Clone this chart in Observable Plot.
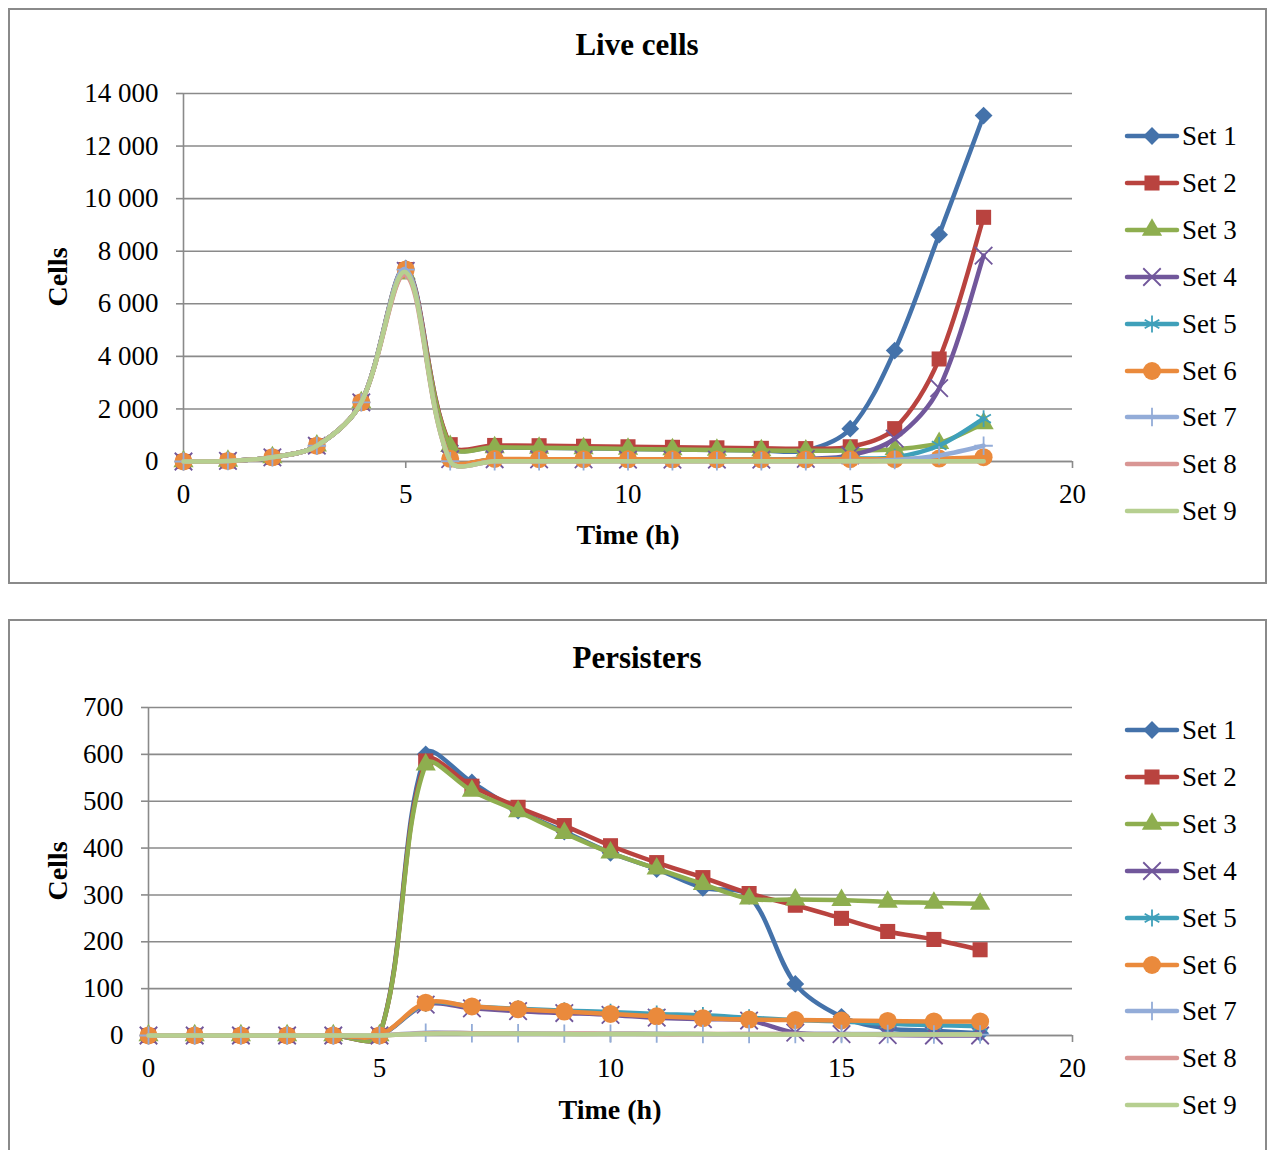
<!DOCTYPE html>
<html>
<head>
<meta charset="utf-8">
<script src="https://cdn.jsdelivr.net/npm/d3@7"></script>
<script src="https://cdn.jsdelivr.net/npm/@observablehq/plot@0.6"></script>
<style>
html, body { margin: 0; padding: 0; background: #fff; overflow: hidden; width: 1269px; height: 1150px; }
body { position: relative; font-family: "Liberation Serif", "Times New Roman", serif; color: #000; }
.panel { position: absolute; border: 2px solid #8a8a8a; box-sizing: border-box; }
.abs { position: absolute; white-space: nowrap; line-height: 1; }
.title { font-weight: bold; font-size: 31px; transform: translate(-50%, -50%); }
.axlabel { font-weight: bold; font-size: 28px; transform: translate(-50%, -50%); }
.ylabel { font-weight: bold; font-size: 28px; transform: translate(-50%, -50%) rotate(-90deg); }
.legtext { font-size: 27px; transform: translateY(-50%); }
.plotwrap { position: absolute; left: 0; }
</style>
</head>
<body>
<div class="panel" style="left:8px; top:8px; width:1259px; height:576px;"></div>
<div class="panel" style="left:8px; top:619px; width:1259px; height:560px;"></div>
<div id="root"></div>
<script>
// ---- Data ----
const hours = [0, 1, 2, 3, 4, 5, 6, 7, 8, 9, 10, 11, 12, 13, 14, 15, 16, 17, 18];
const setNames = ["Set 1", "Set 2", "Set 3", "Set 4", "Set 5", "Set 6", "Set 7", "Set 8", "Set 9"];
const xTicks = [0, 5, 10, 15, 20];
const liveYTicks = [0, 2000, 4000, 6000, 8000, 10000, 12000, 14000];
const persYTicks = [0, 100, 200, 300, 400, 500, 600, 700];

// Live cells
const liveSet1 = [0, 20, 160, 600, 2250, 7350, 600, 540, 520, 500, 480, 460, 440, 420, 420, 1250, 4220, 8630, 13160];
const liveSet2 = [0, 20, 160, 600, 2250, 7300, 640, 610, 600, 580, 560, 540, 520, 500, 490, 560, 1250, 3900, 9290];
const liveSet3 = [0, 20, 160, 600, 2250, 7150, 580, 540, 520, 500, 480, 460, 440, 420, 410, 420, 470, 700, 1450];
const liveSet4 = [0, 20, 160, 600, 2250, 7250, 90, 85, 80, 80, 75, 75, 70, 70, 100, 230, 870, 2790, 7830];
const liveSet5 = [0, 20, 160, 600, 2250, 7300, 95, 90, 85, 85, 80, 80, 75, 75, 80, 110, 160, 610, 1630];
const liveSet6 = [0, 20, 160, 600, 2250, 7300, 100, 95, 90, 90, 85, 85, 80, 80, 80, 90, 90, 110, 165];
const liveSet7 = [0, 20, 160, 600, 2250, 7300, 10, 10, 10, 10, 10, 10, 10, 10, 10, 15, 60, 230, 600];
const liveSet8 = [0, 20, 160, 600, 2250, 7100, 10, 10, 10, 10, 10, 10, 10, 10, 10, 10, 10, 10, 10];
const liveSet9 = [0, 20, 160, 600, 2250, 7200, 10, 10, 10, 10, 10, 10, 10, 10, 10, 10, 10, 10, 10];

// Persisters
const persSet1 = [0, 0, 0, 0, 0, 0, 600, 540, 480, 435, 390, 355, 315, 298, 110, 40, 15, 10, 5];
const persSet2 = [0, 0, 0, 0, 0, 0, 586, 532, 487, 448, 405, 369, 337, 303, 278, 250, 222, 205, 183];
const persSet3 = [0, 0, 0, 0, 0, 0, 578, 522, 478, 432, 390, 356, 323, 292, 290, 289, 285, 283, 281];
const persSet4 = [0, 0, 0, 0, 0, 0, 66, 58, 52, 48, 44, 38, 35, 32, 6, 3, 1, 0, 0];
const persSet5 = [0, 0, 0, 0, 0, 0, 68, 62, 57, 53, 50, 46, 43, 38, 33, 30, 25, 22, 20];
const persSet6 = [0, 0, 0, 0, 0, 0, 70, 62, 56, 51, 46, 41, 37, 34, 33, 32, 31, 30, 30];
const persSet7 = [0, 0, 0, 0, 0, 0, 6, 5, 5, 4, 4, 4, 3, 3, 3, 3, 3, 2, 2];
const persSet8 = [0, 0, 0, 0, 0, 0, 5, 5, 4, 4, 4, 3, 3, 3, 3, 2, 2, 2, 2];
const persSet9 = [0, 0, 0, 0, 0, 0, 4, 4, 4, 3, 3, 3, 3, 2, 2, 2, 2, 2, 2];

// ---- Styles ----
const colors = ["#4472aa", "#b9433f", "#8eae4f", "#71579b", "#3fa0ba", "#ea8a3c", "#93acd8", "#d99694", "#b6cf90"];
const symbols = ["diamond2", "square", "triangle", "times", "asterisk", "circle", "plus", null, null];
const symbolR = [8, 8.5, 7.5, 8, 8, 9, 6, 0, 0];
const filledSym = [true, true, true, false, false, true, false, false, false];
const grid = "#8a8a8a";

const fmt = d => d3.format(",")(d).replace(/,/g, " ");

// Smoothed line (spreadsheet-style Bezier smoothing, tangents weighted by chord length)
function smoothCurve(context) {
  let pts = [];
  return {
    areaStart() {}, areaEnd() {},
    lineStart() { pts = []; },
    point(x, y) { pts.push([+x, +y]); },
    lineEnd() {
      const n = pts.length;
      if (!n) return;
      context.moveTo(pts[0][0], pts[0][1]);
      if (n === 1) return;
      const d = [];
      for (let i = 0; i < n - 1; i++) d.push(Math.hypot(pts[i + 1][0] - pts[i][0], pts[i + 1][1] - pts[i][1]));
      const tan = pts.map((p, i) => {
        const a = pts[Math.max(i - 1, 0)], b = pts[Math.min(i + 1, n - 1)];
        return [b[0] - a[0], b[1] - a[1]];
      });
      for (let i = 0; i < n - 1; i++) {
        const p0 = pts[i], p1 = pts[i + 1];
        const dPrev = i > 0 ? d[i - 1] : 0;
        const dNext = i + 1 < n - 1 ? d[i + 1] : 0;
        const f0 = (dPrev + d[i]) > 0 ? d[i] / (dPrev + d[i]) / 3 : 0;
        const f1 = (d[i] + dNext) > 0 ? d[i] / (d[i] + dNext) / 3 : 0;
        const c0 = [p0[0] + tan[i][0] * f0 * (i > 0 ? 1 : 0.5), p0[1] + tan[i][1] * f0 * (i > 0 ? 1 : 0.5)];
        const c1 = [p1[0] - tan[i + 1][0] * f1 * (i + 1 < n - 1 ? 1 : 0.5), p1[1] - tan[i + 1][1] * f1 * (i + 1 < n - 1 ? 1 : 0.5)];
        context.bezierCurveTo(c0[0], c0[1], c1[0], c1[1], p1[0], p1[1]);
      }
    }
  };
}

function makeChart(series, yDomain, yTicks, top, height, geom) {
  const marks = [
    Plot.gridY(yTicks, {stroke: grid, strokeOpacity: 1, strokeWidth: 1.6}),
    Plot.ruleX([0], {stroke: grid, strokeWidth: 1.6}),
    Plot.ruleY([0], {stroke: grid, strokeWidth: 1.6}),
    Plot.axisY({ticks: yTicks, tickSize: 7, tickPadding: 18, tickFormat: fmt, stroke: grid, strokeWidth: 1.6, fill: "#000", fontSize: 27, label: null}),
    Plot.axisX({ticks: xTicks, tickSize: 7, tickPadding: 15, stroke: grid, strokeWidth: 1.6, fill: "#000", fontSize: 27, label: null})
  ];
  series.forEach((vals, i) => {
    const data = hours.map((t, j) => ({t, v: vals[j], s: setNames[i]}));
    marks.push(Plot.line(data, {x: "t", y: "v", stroke: colors[i], strokeWidth: 4.5, curve: smoothCurve, strokeLinejoin: "round", strokeLinecap: "round"}));
    if (symbols[i]) {
      marks.push(Plot.dot(data, filledSym[i]
        ? {x: "t", y: "v", symbol: () => symbols[i], r: symbolR[i], fill: colors[i], stroke: "none"}
        : {x: "t", y: "v", symbol: () => symbols[i], r: symbolR[i], fill: "none", stroke: colors[i], strokeWidth: 1.8}));
    }
  });
  const svg = Plot.plot({
    width: 1269,
    height,
    marginLeft: geom.left,
    marginRight: 1269 - geom.right,
    marginTop: geom.top - top,
    marginBottom: top + height - geom.bottom,
    x: {domain: [0, 20]},
    y: {domain: yDomain},
    symbol: {type: "identity"},
    style: {fontFamily: "Liberation Serif, Times New Roman, serif", fontSize: "27px", background: "transparent", overflow: "visible", color: "#000"},
    marks
  });
  const wrap = document.createElement("div");
  wrap.className = "plotwrap";
  wrap.style.top = top + "px";
  wrap.appendChild(svg);
  document.getElementById("root").appendChild(wrap);
}

function addText(cls, txt, x, y) {
  const d = document.createElement("div");
  d.className = "abs " + cls;
  d.textContent = txt;
  d.style.left = x + "px";
  d.style.top = y + "px";
  document.getElementById("root").appendChild(d);
}

function addLegend(y0, step) {
  setNames.forEach((name, i) => {
    const y = y0 + i * step;
    const ns = "http://www.w3.org/2000/svg";
    const svg = document.createElementNS(ns, "svg");
    svg.setAttribute("width", 70);
    svg.setAttribute("height", 30);
    svg.style.position = "absolute";
    svg.style.left = "1118px";
    svg.style.top = (y - 15) + "px";
    const line = document.createElementNS(ns, "line");
    line.setAttribute("x1", 9); line.setAttribute("x2", 59);
    line.setAttribute("y1", 15); line.setAttribute("y2", 15);
    line.setAttribute("stroke", colors[i]); line.setAttribute("stroke-width", 4.5);
    line.setAttribute("stroke-linecap", "round");
    svg.appendChild(line);
    if (symbols[i]) {
      const symMap = {diamond2: d3.symbolDiamond2, square: d3.symbolSquare, triangle: d3.symbolTriangle, times: d3.symbolTimes, asterisk: d3.symbolAsterisk, circle: d3.symbolCircle, plus: d3.symbolPlus};
      const p = document.createElementNS(ns, "path");
      const r = symbolR[i];
      p.setAttribute("d", d3.symbol(symMap[symbols[i]], Math.PI * r * r)());
      p.setAttribute("transform", "translate(34,15)");
      if (filledSym[i]) { p.setAttribute("fill", colors[i]); }
      else { p.setAttribute("fill", "none"); p.setAttribute("stroke", colors[i]); p.setAttribute("stroke-width", 1.8); }
      svg.appendChild(p);
    }
    document.getElementById("root").appendChild(svg);
    addText("legtext", name, 1182, y);
  });
}

// Live cells chart
makeChart([liveSet1, liveSet2, liveSet3, liveSet4, liveSet5, liveSet6, liveSet7, liveSet8, liveSet9],
  [0, 14000], liveYTicks, 0, 570, {left: 183, right: 1072, top: 93, bottom: 461});
addText("title", "Live cells", 637, 44);
addText("ylabel", "Cells", 58, 277);
addText("axlabel", "Time (h)", 628, 535);
addLegend(136, 46.9);

// Persisters chart
makeChart([persSet1, persSet2, persSet3, persSet4, persSet5, persSet6, persSet7, persSet8, persSet9],
  [0, 700], persYTicks, 600, 550, {left: 148, right: 1072, top: 707, bottom: 1035});
addText("title", "Persisters", 637, 657);
addText("ylabel", "Cells", 58, 871);
addText("axlabel", "Time (h)", 610, 1110);
addLegend(730, 46.9);
</script>
</body>
</html>
